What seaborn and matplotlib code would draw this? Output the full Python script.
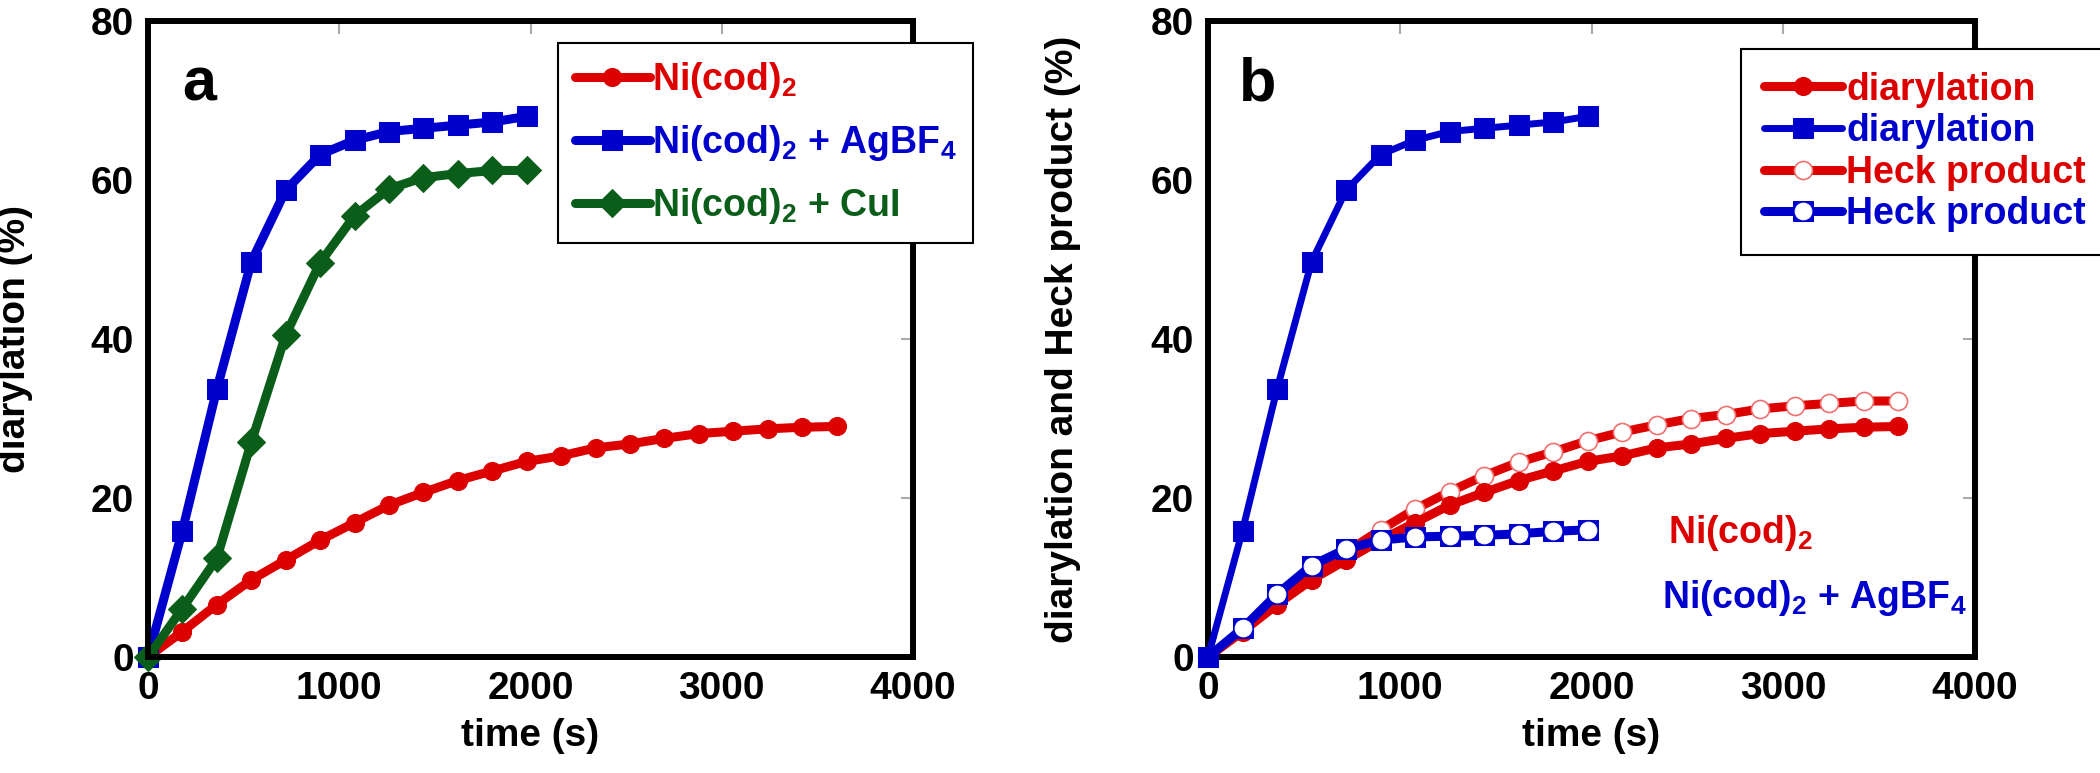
import numpy as np
import pandas as pd
import matplotlib
matplotlib.use("Agg")
import matplotlib.pyplot as plt
import seaborn as sns

sns.set_theme(style="white")
plt.rcParams["font.family"] = ["Liberation Sans", "DejaVu Sans"]
plt.rcParams["font.weight"] = "bold"
plt.rcParams["text.color"] = "black"
plt.rcParams["axes.labelcolor"] = "black"
plt.rcParams["mathtext.fontset"] = "custom"
plt.rcParams["mathtext.rm"] = "Liberation Sans:bold"
plt.rcParams["mathtext.default"] = "rm"

# time axes (s)
t_long = [0, 180, 360, 540, 720, 900, 1080, 1260, 1440, 1620, 1800,
          1980, 2160, 2340, 2520, 2700, 2880, 3060, 3240, 3420, 3600]
t_short = [0, 180, 360, 540, 720, 900, 1080, 1260, 1440, 1620, 1800, 1980]

# diarylation (%)
ni_dia = [0, 3.2, 6.6, 9.7, 12.2, 14.7, 16.9, 19.1, 20.7, 22.2, 23.4,
          24.6, 25.3, 26.3, 26.8, 27.5, 28.1, 28.4, 28.7, 28.9, 29.0]
ag_dia = [0, 15.9, 33.7, 49.7, 58.7, 63.2, 65.0, 66.1, 66.5, 66.9, 67.3, 68.0]
cu_dia = [0, 6.1, 12.4, 27.0, 40.5, 49.6, 55.5, 58.9, 60.3, 60.8, 61.2, 61.2]

# Heck product (%)
ni_heck = [0, 3.3, 7.0, 10.3, 13.2, 16.0, 18.6, 20.8, 22.8, 24.5, 25.8,
           27.2, 28.3, 29.2, 30.0, 30.5, 31.2, 31.6, 31.9, 32.2, 32.2]
ag_heck = [0, 3.6, 7.9, 11.5, 13.6, 14.7, 15.1, 15.2, 15.3, 15.5, 15.8, 16.0]

RED = "#DD0000"
BLUE = "#0000CC"
GREEN = "#0B5E1A"
FS = 28

fig = plt.figure(figsize=(21, 7.73), dpi=100)
ax_a = fig.add_axes([148 / 2100, 116 / 773, 765 / 2100, 636 / 773])
ax_b = fig.add_axes([1208 / 2100, 116 / 773, 767 / 2100, 636 / 773])


def style_axis(ax, ylabel, label_x):
    ax.set_xlim(0, 4000)
    ax.set_ylim(0, 80)
    ax.set_xticks([0, 1000, 2000, 3000, 4000])
    ax.set_yticks([0, 20, 40, 60, 80])
    ax.tick_params(direction="in", length=9, width=1.5, color="#AAAAAA",
                   labelcolor="black", top=True, right=True,
                   labelsize=FS, pad=10)
    for lab in ax.get_xticklabels() + ax.get_yticklabels():
        lab.set_fontweight("bold")
    for sp in ax.spines.values():
        sp.set_visible(True)
        sp.set_color("black")
        sp.set_linewidth(4.3)
    ax.grid(False)
    ax.set_xlabel("time (s)", fontsize=FS, fontweight="bold", labelpad=8)
    ax.set_ylabel(ylabel, fontsize=FS, fontweight="bold")
    ax.yaxis.set_label_coords(label_x, 0.5)


# panel a
sns.lineplot(x=t_long, y=ni_dia, ax=ax_a, color=RED, lw=6.5, marker="o",
             markersize=13, markeredgecolor=RED, clip_on=False,
             label=r"Ni(cod)$_2$")
sns.lineplot(x=t_short, y=ag_dia, ax=ax_a, color=BLUE, lw=6.5, marker="s",
             markersize=15, markeredgecolor=BLUE, clip_on=False,
             label=r"Ni(cod)$_2$ + AgBF$_4$")
sns.lineplot(x=t_short, y=cu_dia, ax=ax_a, color=GREEN, lw=6.5, marker="D",
             markersize=14, markeredgecolor=GREEN, clip_on=False,
             label=r"Ni(cod)$_2$ + CuI")
style_axis(ax_a, "diarylation (%)", -0.150)
ax_a.text(0.045, 0.90, "a", transform=ax_a.transAxes, fontsize=44,
          fontweight="bold", va="center", ha="left")
leg_a = ax_a.legend(loc="upper left", bbox_to_anchor=(558 / 2100, 1 - 43 / 773),
                    bbox_transform=fig.transFigure, borderaxespad=0,
                    prop={"size": 27, "weight": "bold"}, labelcolor="linecolor",
                    frameon=True, fancybox=False, framealpha=1, edgecolor="black",
                    handlelength=2.0, handletextpad=0.05, labelspacing=0.62,
                    borderpad=0.45)
leg_a.get_frame().set_linewidth(1.5)

# panel b
sns.lineplot(x=t_long, y=ni_heck, ax=ax_b, color=RED, lw=6.5, marker="o",
             markersize=13, markerfacecolor="white", markeredgecolor="#F07070",
             markeredgewidth=1.2, clip_on=False, zorder=2)
sns.lineplot(x=t_long, y=ni_dia, ax=ax_b, color=RED, lw=6.5, marker="o",
             markersize=13, markeredgecolor=RED, clip_on=False, zorder=3)
sns.lineplot(x=t_short, y=ag_heck, ax=ax_b, color=BLUE, lw=6.5, marker="s",
             markersize=15, markeredgecolor=BLUE, clip_on=False, zorder=4)
sns.lineplot(x=t_short, y=ag_heck, ax=ax_b, color="white", lw=0, marker="o",
             markersize=12, markeredgecolor="white", clip_on=False, zorder=5)
sns.lineplot(x=t_short, y=ag_dia, ax=ax_b, color=BLUE, lw=5, marker="s",
             markersize=15, markeredgecolor=BLUE, clip_on=False, zorder=6)
style_axis(ax_b, "diarylation and Heck product (%)", -0.165)
ax_b.text(0.04, 0.90, "b", transform=ax_b.transAxes, fontsize=44,
          fontweight="bold", va="center", ha="left")
ax_b.text(2400, 15.6, r"Ni(cod)$_2$", color=RED, fontsize=27,
          fontweight="bold", va="center", ha="left")
ax_b.text(2370, 7.4, r"Ni(cod)$_2$ + AgBF$_4$", color=BLUE, fontsize=27,
          fontweight="bold", va="center", ha="left")

lines_b = ax_b.get_lines()
h_heck_red, h_dia_red, h_heck_blue, h_heck_white, h_dia_blue = lines_b[:5]
handles_b = [h_dia_red, h_dia_blue, h_heck_red, (h_heck_blue, h_heck_white)]
labels_b = ["diarylation", "diarylation", "Heck product", "Heck product"]
leg_b = ax_b.legend(handles_b, labels_b, loc="upper left",
                    bbox_to_anchor=(1741 / 2100, 1 - 49 / 773),
                    bbox_transform=fig.transFigure, borderaxespad=0,
                    prop={"size": 27, "weight": "bold"},
                    frameon=True, fancybox=False, framealpha=1, edgecolor="black",
                    handlelength=2.1, handletextpad=0.1, labelspacing=0.15,
                    borderpad=0.6)
leg_b.get_frame().set_linewidth(1.5)
for txt, col in zip(leg_b.get_texts(), [RED, BLUE, RED, BLUE]):
    txt.set_color(col)

fig.savefig("out.png", dpi=100)
